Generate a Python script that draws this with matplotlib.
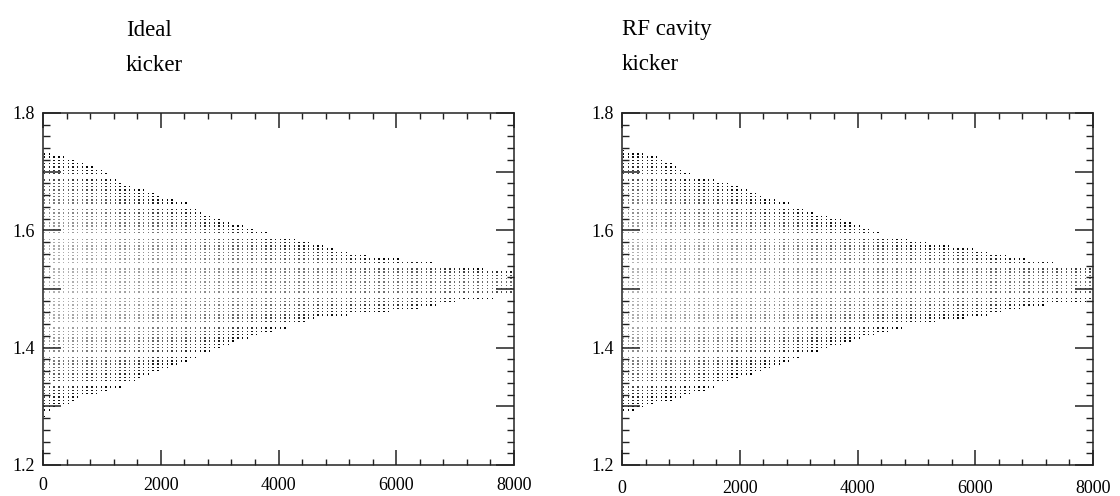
import numpy as np
import matplotlib
matplotlib.use("Agg")
import matplotlib.pyplot as plt
from matplotlib.ticker import MultipleLocator, FuncFormatter

# ---- data (envelopes of the dot clouds) ----
title_lines = [["Ideal", "kicker"], ["RF cavity", "kicker"]]

ideal_upper_x = [0, 320, 710, 1090, 1220, 1480, 1770, 2040, 2450, 2700, 3060, 3480,
                 3860, 4590, 5250, 5780, 6440, 6750, 7260, 7940, 8000]
ideal_upper_y = [1.733, 1.727, 1.713, 1.700, 1.687, 1.676, 1.667, 1.657, 1.647, 1.631,
                 1.618, 1.605, 1.596, 1.578, 1.561, 1.553, 1.549, 1.544, 1.536, 1.532, 1.531]
ideal_lower_x = [0, 240, 490, 630, 920, 1140, 1480, 1820, 2280, 2620, 3040, 3350,
                 3860, 4250, 4660, 5220, 6240, 7200, 7820, 8000]
ideal_lower_y = [1.278, 1.300, 1.304, 1.316, 1.319, 1.328, 1.335, 1.357, 1.370, 1.384,
                 1.401, 1.413, 1.427, 1.435, 1.451, 1.456, 1.464, 1.481, 1.485, 1.486]

rf_upper_x = [0, 340, 700, 1070, 1330, 1610, 2040, 2290, 2460, 2850, 3240, 3650, 3870,
              4210, 4430, 4690, 4940, 5230, 5400, 5780, 5960, 6200, 6730, 7220, 7440, 7950]
rf_upper_y = [1.737, 1.732, 1.722, 1.699, 1.694, 1.686, 1.672, 1.664, 1.655, 1.647, 1.630,
              1.621, 1.614, 1.604, 1.595, 1.589, 1.583, 1.578, 1.575, 1.572, 1.568, 1.563,
              1.553, 1.548, 1.544, 1.544]
rf_lower_x = [0, 360, 560, 930, 1120, 1440, 1830, 2290, 2630, 3020, 3360, 3840, 4260,
              4600, 5010, 5280, 5960, 6250, 6540, 6880, 7390, 7950]
rf_lower_y = [1.285, 1.299, 1.306, 1.311, 1.319, 1.328, 1.345, 1.357, 1.370, 1.384, 1.396,
              1.408, 1.422, 1.430, 1.439, 1.444, 1.452, 1.456, 1.464, 1.469, 1.476, 1.478]

x_ticks = [0, 2000, 4000, 6000, 8000]
y_ticks = [1.2, 1.4, 1.6, 1.8]

# ---- figure ----
W, H = 1120, 496
fig = plt.figure(figsize=(W / 100, H / 100), dpi=100)
serif = ["Liberation Serif", "DejaVu Serif"]

panels = [
    dict(rect=[43, 31, 471, 352], title_x=126, base_y=(36, 71), xpad=8.5,
         ux=ideal_upper_x, uy=ideal_upper_y, lx=ideal_lower_x, ly=ideal_lower_y, xmax=8000),
    dict(rect=[622, 31, 471, 352], title_x=622, base_y=(35, 70), xpad=10.5,
         ux=rf_upper_x, uy=rf_upper_y, lx=rf_lower_x, ly=rf_lower_y, xmax=7950),
]

col_step = 80.0
row_step = 0.0056

for p, lines in zip(panels, title_lines):
    l, b, w, h = p["rect"]
    ax = fig.add_axes([l / W, b / H, w / W, h / H])
    ax.set_xlim(0, 8000)
    ax.set_ylim(1.2, 1.8)

    # dot texture: columns of dots inside the read envelope
    cols = np.arange(30, p["xmax"] + 1, col_step)
    rows = np.arange(1.26, 1.76, row_step)
    ph = ((rows - 1.49) / 0.05) % 1.0
    rows = rows[(ph > 0.07) & (ph < 0.93)]
    up = np.interp(cols, p["ux"], p["uy"])
    lo = np.interp(cols, p["lx"], p["ly"])
    X, Y = np.meshgrid(cols, rows)
    U = np.broadcast_to(up, X.shape)
    L = np.broadcast_to(lo, X.shape)
    m = (Y <= U) & (Y >= L)
    xs, ys, us, ls = X[m], Y[m], U[m], L[m]
    c = 0.5 * (us + ls)
    hw = 0.5 * (us - ls)
    t = np.clip(np.abs(ys - c) / hw, 0, 1)
    base = 0.38 + 0.34 * np.minimum(hw / 0.23, 1.0)
    g = base * (1 - t ** 2.5)
    colors = np.stack([g, g, g], axis=1)
    ax.scatter(xs, ys, s=1.0, marker="s", c=colors, linewidths=0)

    # axes styling
    for sp in ax.spines.values():
        sp.set_linewidth(1.1)
        sp.set_color("#222222")
    ax.xaxis.set_major_locator(MultipleLocator(2000))
    ax.xaxis.set_minor_locator(MultipleLocator(400))
    ax.yaxis.set_major_locator(MultipleLocator(0.1))
    ax.yaxis.set_minor_locator(MultipleLocator(0.02))
    ax.xaxis.set_major_formatter(FuncFormatter(lambda v, pos: f"{v:.0f}" if v in x_ticks else ""))
    ax.yaxis.set_major_formatter(
        FuncFormatter(lambda v, pos: f"{v:.1f}" if any(abs(v - yt) < 1e-6 for yt in y_ticks) else ""))
    ax.tick_params(which="both", direction="in", top=True, right=True, color="#222222")
    ax.tick_params(axis="x", which="major", length=11, width=1.1, pad=p["xpad"])
    ax.tick_params(axis="x", which="minor", length=4, width=1.0)
    ax.tick_params(axis="y", which="major", length=13, width=1.1, pad=6)
    ax.tick_params(axis="y", which="minor", length=5, width=1.0)
    for lab in ax.get_xticklabels() + ax.get_yticklabels():
        lab.set_family(serif)
        lab.set_fontsize(13)

    for line, by in zip(lines, p["base_y"]):
        fig.text(p["title_x"] / W, 1 - by / H, line, family=serif, fontsize=16.5,
                 ha="left", va="baseline")

fig.savefig("out.png", dpi=100)
